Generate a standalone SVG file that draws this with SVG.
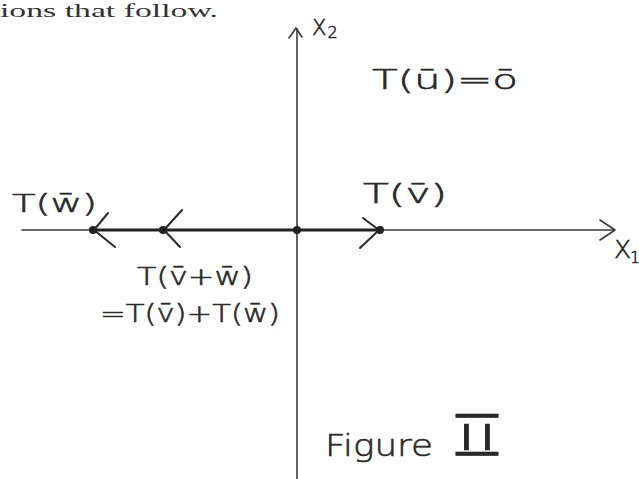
<svg xmlns="http://www.w3.org/2000/svg" width="639" height="479" viewBox="0 0 639 479">
<style>
.hw{font-family:"DejaVu Sans","Liberation Sans",sans-serif;font-weight:200;fill:#2a2a2a;stroke:#2a2a2a;stroke-width:0.6;}
.ax{stroke:#3a3a3a;stroke-width:1.6;fill:none;stroke-linecap:round;stroke-linejoin:round;}
.vec{stroke:#222;stroke-width:3;fill:none;stroke-linecap:round;}
.chev{stroke:#2a2a2a;stroke-width:2;fill:none;stroke-linecap:round;stroke-linejoin:round;}
.dot{fill:#222;}
</style>
<rect width="639" height="479" fill="#ffffff"/>
<text x="0" y="17" font-family="'Liberation Serif',serif" font-size="18" fill="#333" textLength="218" lengthAdjust="spacingAndGlyphs">ions that follow.</text>
<g id="connectors">
  <line class="ax" x1="297" y1="29" x2="297" y2="479"/>
  <polyline class="ax" points="289,38 296,28 302,37"/>
  <line class="ax" x1="22" y1="230" x2="614" y2="230"/>
  <polyline class="ax" points="600,220 615,230 600,240"/>
  <line class="vec" x1="93" y1="230" x2="380" y2="230"/>
  <polyline class="chev" points="108,213 94,230 115,247"/>
  <polyline class="chev" points="182,210 164,230 180,247"/>
  <polyline class="chev" points="363,218 379,230 360,248"/>
</g>
<g id="origin"><circle class="dot" cx="297" cy="230" r="4"/></g>
<g id="Tw">
  <circle class="dot" cx="93" cy="230" r="4"/>
  <text class="hw" x="12" y="212" font-size="25" textLength="85" lengthAdjust="spacingAndGlyphs">T(w̄)</text>
</g>
<g id="Tvw">
  <circle class="dot" cx="163" cy="230" r="4"/>
  <text class="hw" x="137" y="285" font-size="25" textLength="116" lengthAdjust="spacingAndGlyphs">T(v̄+w̄)</text>
  <text class="hw" x="100" y="322" font-size="25" textLength="180" lengthAdjust="spacingAndGlyphs">=T(v̄)+T(w̄)</text>
</g>
<g id="Tv">
  <circle class="dot" cx="380" cy="230" r="4"/>
  <text class="hw" x="363" y="203" font-size="26" textLength="84" lengthAdjust="spacingAndGlyphs">T(v̄)</text>
</g>
<g id="Tu">
  <text class="hw" x="372" y="89" font-size="26" textLength="146" lengthAdjust="spacingAndGlyphs">T(ū)=ō</text>
</g>
<g id="x2label">
  <text class="hw" x="312" y="35" font-size="21">X<tspan font-size="16" dx="1" dy="3">2</tspan></text>
</g>
<g id="x1label">
  <text class="hw" x="614" y="258" font-size="25">X<tspan font-size="15" dx="-1" dy="5">1</tspan></text>
</g>
<g id="caption">
  <text class="hw" x="325" y="456" font-size="31" textLength="108" lengthAdjust="spacingAndGlyphs">Figure</text>
  <text class="hw" x="456" y="450" font-size="36" textLength="42" lengthAdjust="spacingAndGlyphs" text-decoration="underline overline">II</text>
</g>
</svg>
